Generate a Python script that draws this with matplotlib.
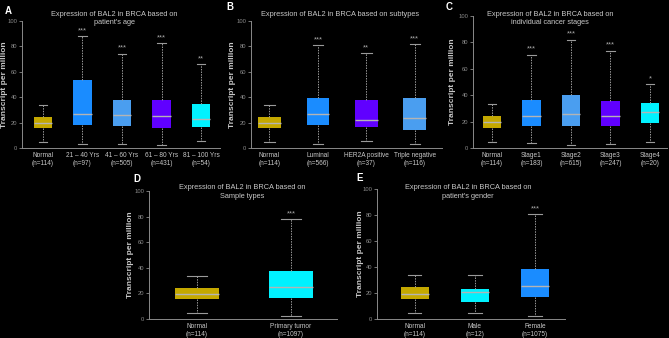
import matplotlib.pyplot as plt

# shared normal group
normal = [4.5, 15.5, 19.5, 24.5, 33.7]  # whislo, q1, med, q3, whishi

# A - patient's age
age_labels = ["Normal\n(n=114)", "21 – 40 Yrs\n(n=97)", "41 – 60 Yrs\n(n=505)",
              "61 – 80 Yrs\n(n=431)", "81 – 100 Yrs\n(n=54)"]
age_stats = [normal,
             [2.9, 17.8, 26.6, 53.3, 88.0],
             [2.9, 17.2, 25.8, 37.9, 74.4],
             [2.3, 15.7, 25.3, 37.9, 82.8],
             [5.5, 16.4, 23.0, 34.5, 66.0]]
age_stars = ["", "***", "***", "***", "**"]

# B - subtypes
sub_labels = ["Normal\n(n=114)", "Luminal\n(n=566)", "HER2A positive\n(n=37)",
              "Triple negative\n(n=116)"]
sub_stats = [normal,
             [2.9, 18.0, 26.7, 39.3, 80.9],
             [5.5, 16.5, 22.3, 38.0, 74.6],
             [3.1, 14.4, 23.8, 39.0, 81.7]]
sub_stars = ["", "***", "**", "***"]

# C - cancer stages
stage_labels = ["Normal\n(n=114)", "Stage1\n(n=183)", "Stage2\n(n=615)",
                "Stage3\n(n=247)", "Stage4\n(n=20)"]
stage_stats = [normal,
               [4.0, 16.5, 23.9, 36.0, 70.6],
               [2.3, 16.5, 26.1, 39.8, 82.0],
               [3.0, 16.8, 23.9, 35.5, 73.6],
               [4.6, 19.0, 27.2, 34.0, 48.2]]
stage_stars = ["", "***", "***", "***", "*"]

# D - sample types
sample_labels = ["Normal\n(n=114)", "Primary tumor\n(n=1097)"]
sample_stats = [normal, [2.1, 16.7, 25.3, 37.8, 77.9]]
sample_stars = ["", "***"]

# E - gender
gender_labels = ["Normal\n(n=114)", "Male\n(n=12)", "Female\n(n=1075)"]
gender_stats = [normal,
                [4.6, 13.3, 20.7, 23.3, 33.8],
                [2.0, 16.6, 25.6, 38.4, 80.6]]
gender_stars = ["", "", "***"]

YELLOW = "#c4a800"
BLUE = "#1a8cff"
LBLUE = "#4a9ef0"
PURPLE = "#6000ff"
CYAN = "#00f2ff"

TXT = "#c8c8c8"

plt.rcParams['font.family'] = ['Liberation Sans', 'DejaVu Sans']

fig = plt.figure(figsize=(6.69, 3.38), dpi=100, facecolor="black")


def panel(rect, labels, stats, stars, colors, title, letter, letter_xy, xlim, title_xy, ylab_x):
    ax = fig.add_axes(rect)
    ax.set_facecolor("black")
    bstats = []
    for lab, s in zip(labels, stats):
        bstats.append(dict(whislo=s[0], q1=s[1], med=s[2], q3=s[3], whishi=s[4], fliers=[], label=lab))
    pos = list(range(len(stats)))
    bp = ax.bxp(bstats, positions=pos, widths=0.47, patch_artist=True, showfliers=False,
                boxprops=dict(linewidth=0),
                medianprops=dict(color="#b4b4b4", linewidth=1.0),
                whiskerprops=dict(color="#9a9a9a", linewidth=0.7, linestyle=(0, (1.5, 1.2))),
                capprops=dict(color="#9a9a9a", linewidth=0.8),
                capwidths=0.22)
    for patch, c in zip(bp["boxes"], colors):
        patch.set_facecolor(c)
    for p, s, st in zip(pos, stats, stars):
        if st:
            ax.text(p, s[4] + 1.5, st, ha="center", va="bottom", color="#aaaaaa", fontsize=5.5)
    ax.set_ylim(0, 100)
    ax.set_xlim(*xlim)
    ax.set_yticks([0, 20, 40, 60, 80, 100])
    ax.tick_params(axis="y", colors="#8a8a8a", labelsize=4.2, length=2, width=0.6, pad=1.5)
    ax.tick_params(axis="x", length=0, labelsize=4.7, labelcolor=TXT, pad=3)
    for side in ["top", "right"]:
        ax.spines[side].set_visible(False)
    for side in ["left", "bottom"]:
        ax.spines[side].set_color("#8a8a8a")
        ax.spines[side].set_linewidth(0.7)
    ax.set_ylabel("Transcript per million", color=TXT, fontsize=6, fontweight="bold")
    ax.yaxis.set_label_coords((ylab_x - rect[0] * 669) / (rect[2] * 669), 0.5)
    fig.text(title_xy[0] / 669, 1 - title_xy[1] / 338, title, color=TXT, fontsize=5.3,
             ha="center", va="top", linespacing=1.3)
    fig.text(letter_xy[0] / 669, 1 - letter_xy[1] / 338, letter, color="white", fontsize=7,
             fontweight="bold", ha="left", va="center")
    return ax


panel([22 / 669, 190 / 338, 198 / 669, 127 / 338], age_labels, age_stats, age_stars,
      [YELLOW, BLUE, LBLUE, PURPLE, CYAN],
      "Expression of BAL2 in BRCA based on\npatient's age", "A", (5, 11), (-0.53, 4.48), (114, 11), 8.5)
panel([251 / 669, 190 / 338, 191 / 669, 127 / 338], sub_labels, sub_stats, sub_stars,
      [YELLOW, BLUE, PURPLE, LBLUE],
      "Expression of BAL2 in BRCA based on subtypes", "B", (226, 7), (-0.38, 3.56), (340, 11), 235.5)
panel([473 / 669, 190 / 338, 194 / 669, 132 / 338], stage_labels, stage_stats, stage_stars,
      [YELLOW, BLUE, LBLUE, PURPLE, CYAN],
      "Expression of BAL2 in BRCA based on\nindividual cancer stages", "C", (446, 7), (-0.48, 4.43), (550, 11), 456.5)
panel([149 / 669, 19 / 338, 188 / 669, 128 / 338], sample_labels, sample_stats, sample_stars,
      [YELLOW, CYAN],
      "Expression of BAL2 in BRCA based on\nSample types", "D", (133, 179), (-0.51, 1.49), (242, 184), 133.5)
panel([377 / 669, 19 / 338, 188 / 669, 130 / 338], gender_labels, gender_stats, gender_stars,
      [YELLOW, CYAN, BLUE],
      "Expression of BAL2 in BRCA based on\npatient's gender", "E", (356, 178), (-0.63, 2.5), (468, 184), 363.5)

fig.savefig("out.png", dpi=100, facecolor="black")
